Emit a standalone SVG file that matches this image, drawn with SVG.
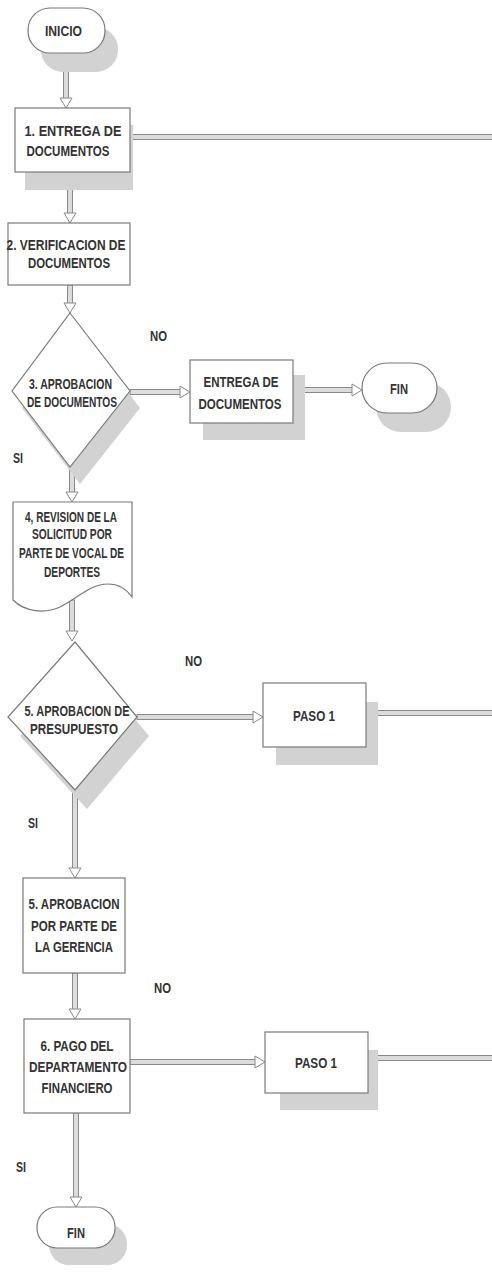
<svg xmlns="http://www.w3.org/2000/svg" width="492" height="1274" viewBox="0 0 492 1274">
<style>
.bg{fill:#ffffff}
.sh{fill:#d2d2d2}
.nd{fill:#ffffff;stroke:#7a7a7a;stroke-width:1.2}
.t{font-family:"Liberation Sans",Arial,sans-serif;font-weight:bold;font-size:15.5px;fill:#333333;text-anchor:middle}
.shaft{fill:#dcdcdc;stroke:#8a8a8a;stroke-width:1}
.head{fill:#ffffff;stroke:#8a8a8a;stroke-width:1}
</style>
<rect class="bg" x="0" y="0" width="492" height="1274"/>

<g id="connectors">
  <rect class="shaft" x="63.5" y="53" width="5" height="46"/>
  <polygon class="head" points="60,98 72,98 66,108"/>
  <rect class="shaft" x="130" y="134.5" width="364" height="5"/>
  <rect class="shaft" x="67.5" y="172" width="5" height="42"/>
  <polygon class="head" points="64,213 76,213 70,223"/>
  <rect class="shaft" x="67.5" y="285" width="5" height="19"/>
  <polygon class="head" points="64,303 76,303 70,313"/>
  <rect class="shaft" x="130" y="389.5" width="51" height="5"/>
  <polygon class="head" points="180,386 180,398 190,392"/>
  <rect class="shaft" x="293" y="387.5" width="60" height="5"/>
  <polygon class="head" points="352,384 352,396 362,390"/>
  <rect class="shaft" x="69.5" y="467" width="5" height="26"/>
  <polygon class="head" points="66,492 78,492 72,502"/>
  <rect class="shaft" x="69.5" y="600" width="5" height="32"/>
  <polygon class="head" points="66,631 78,631 72,641"/>
  <rect class="shaft" x="137" y="714.5" width="117" height="5"/>
  <polygon class="head" points="253,711 253,723 263,717"/>
  <rect class="shaft" x="366" y="710.5" width="128" height="5"/>
  <rect class="shaft" x="72.5" y="790" width="5" height="79"/>
  <polygon class="head" points="69,868 81,868 75,878"/>
  <rect class="shaft" x="72.5" y="973" width="5" height="37"/>
  <polygon class="head" points="69,1009 81,1009 75,1019"/>
  <rect class="shaft" x="130" y="1059.5" width="126" height="5"/>
  <polygon class="head" points="255,1056 255,1068 265,1062"/>
  <rect class="shaft" x="368" y="1055.5" width="126" height="5"/>
  <rect class="shaft" x="73.5" y="1113" width="5" height="85"/>
  <polygon class="head" points="70,1197 82,1197 76,1207"/>
</g>

<g id="inicio">
  <rect class="sh" x="41" y="27" width="77" height="45" rx="22"/>
  <rect class="nd" x="28" y="8" width="77" height="45" rx="22"/>
  <text class="t" x="63.5" y="36" textLength="37" lengthAdjust="spacingAndGlyphs">INICIO</text>
</g>

<g id="n1">
  <rect class="sh" x="25" y="125" width="108" height="65"/>
  <rect class="nd" x="15" y="108" width="115" height="64"/>
  <text class="t" x="73" y="136" textLength="97" lengthAdjust="spacingAndGlyphs">1. ENTREGA DE</text>
  <text class="t" x="68" y="156" textLength="83" lengthAdjust="spacingAndGlyphs">DOCUMENTOS</text>
</g>

<g id="n2">
  <rect class="nd" x="8" y="223" width="122" height="62"/>
  <text class="t" x="66" y="250" textLength="119" lengthAdjust="spacingAndGlyphs">2. VERIFICACION DE</text>
  <text class="t" x="69" y="268" textLength="82" lengthAdjust="spacingAndGlyphs">DOCUMENTOS</text>
</g>

<g id="d3">
  <polygon class="sh" points="80,330 140,408 80,484 22,408"/>
  <polygon class="nd" points="70,313 130,391 70,467 12,391"/>
  <text class="t" x="70.5" y="389" textLength="83" lengthAdjust="spacingAndGlyphs">3. APROBACION</text>
  <text class="t" x="72" y="407" textLength="90" lengthAdjust="spacingAndGlyphs">DE DOCUMENTOS</text>
</g>

<g id="lbl-no1"><text class="t" x="158.5" y="341" textLength="17" lengthAdjust="spacingAndGlyphs">NO</text></g>
<g id="lbl-si1"><text class="t" x="18" y="463" textLength="10" lengthAdjust="spacingAndGlyphs">SI</text></g>

<g id="entrega">
  <rect class="sh" x="203" y="375" width="102" height="65"/>
  <rect class="nd" x="190" y="360" width="103" height="63"/>
  <text class="t" x="241" y="387" textLength="75" lengthAdjust="spacingAndGlyphs">ENTREGA DE</text>
  <text class="t" x="240" y="409" textLength="83" lengthAdjust="spacingAndGlyphs">DOCUMENTOS</text>
</g>

<g id="fin1">
  <rect class="sh" x="376" y="382" width="75" height="50" rx="25"/>
  <rect class="nd" x="362" y="363" width="75" height="50" rx="25"/>
  <text class="t" x="399" y="394" textLength="18" lengthAdjust="spacingAndGlyphs">FIN</text>
</g>

<g id="doc4">
  <path class="nd" d="M13,502 H132 V597 C127,590 120,584 108,584 C90,584 78,598 60,607 C45,614 25,612 13,600 Z"/>
  <text class="t" x="71" y="522" textLength="92" lengthAdjust="spacingAndGlyphs">4, REVISION DE LA</text>
  <text class="t" x="72" y="539" textLength="80" lengthAdjust="spacingAndGlyphs">SOLICITUD POR</text>
  <text class="t" x="71.5" y="558" textLength="105" lengthAdjust="spacingAndGlyphs">PARTE DE VOCAL DE</text>
  <text class="t" x="72" y="577" textLength="56" lengthAdjust="spacingAndGlyphs">DEPORTES</text>
</g>

<g id="d5">
  <polygon class="sh" points="87,661 149,736 87,809 20,736"/>
  <polygon class="nd" points="75,642 137,717 75,790 8,717"/>
  <text class="t" x="77" y="716" textLength="105" lengthAdjust="spacingAndGlyphs">5. APROBACION DE</text>
  <text class="t" x="74" y="734" textLength="88" lengthAdjust="spacingAndGlyphs">PRESUPUESTO</text>
</g>

<g id="lbl-no2"><text class="t" x="193.5" y="666" textLength="17" lengthAdjust="spacingAndGlyphs">NO</text></g>
<g id="lbl-si2"><text class="t" x="33" y="828" textLength="10" lengthAdjust="spacingAndGlyphs">SI</text></g>

<g id="paso1a">
  <rect class="sh" x="276" y="702" width="102" height="63"/>
  <rect class="nd" x="263" y="683" width="103" height="64"/>
  <text class="t" x="314" y="721" textLength="42" lengthAdjust="spacingAndGlyphs">PASO 1</text>
</g>

<g id="n5b">
  <rect class="nd" x="23" y="878" width="102" height="95"/>
  <text class="t" x="74" y="909" textLength="91" lengthAdjust="spacingAndGlyphs">5. APROBACION</text>
  <text class="t" x="74" y="931" textLength="86" lengthAdjust="spacingAndGlyphs">POR PARTE DE</text>
  <text class="t" x="74" y="952" textLength="78" lengthAdjust="spacingAndGlyphs">LA GERENCIA</text>
</g>

<g id="lbl-no3"><text class="t" x="162.5" y="993" textLength="17" lengthAdjust="spacingAndGlyphs">NO</text></g>

<g id="n6">
  <rect class="nd" x="24" y="1019" width="106" height="94"/>
  <text class="t" x="77" y="1051" textLength="73" lengthAdjust="spacingAndGlyphs">6. PAGO DEL</text>
  <text class="t" x="78" y="1072" textLength="98" lengthAdjust="spacingAndGlyphs">DEPARTAMENTO</text>
  <text class="t" x="77" y="1093" textLength="71" lengthAdjust="spacingAndGlyphs">FINANCIERO</text>
</g>

<g id="paso1b">
  <rect class="sh" x="280" y="1050" width="98" height="60"/>
  <rect class="nd" x="265" y="1032" width="103" height="61"/>
  <text class="t" x="316" y="1068" textLength="42" lengthAdjust="spacingAndGlyphs">PASO 1</text>
</g>

<g id="lbl-si3"><text class="t" x="21" y="1172" textLength="10" lengthAdjust="spacingAndGlyphs">SI</text></g>

<g id="fin2">
  <rect class="sh" x="49" y="1224" width="78" height="41" rx="20"/>
  <rect class="nd" x="37" y="1207" width="78" height="41" rx="20"/>
  <text class="t" x="76" y="1238" textLength="18" lengthAdjust="spacingAndGlyphs">FIN</text>
</g>
</svg>
